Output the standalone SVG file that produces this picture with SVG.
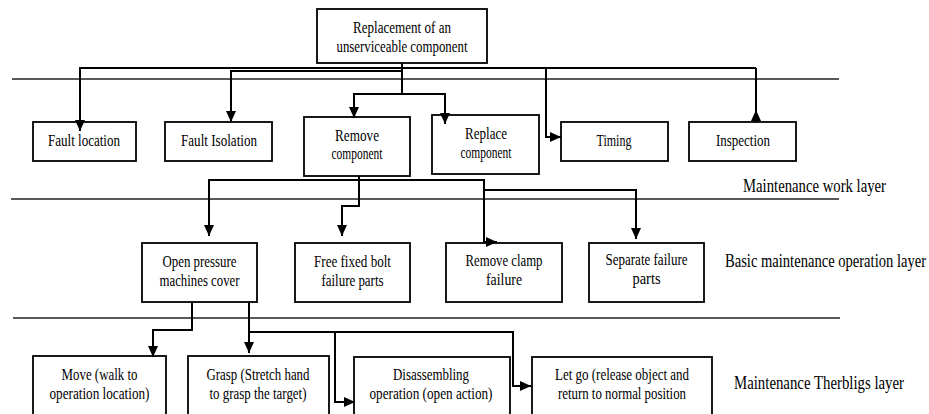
<svg xmlns="http://www.w3.org/2000/svg" width="929" height="414" viewBox="0 0 929 414">
<style>
  .box { fill: #ffffff; stroke: #000; stroke-width: 1.8; }
  .t { font-family: "Liberation Serif", "DejaVu Serif", "Times New Roman", serif; font-size: 17px; fill: #000; text-anchor: middle; }
  .lbl { font-family: "Liberation Serif", "DejaVu Serif", "Times New Roman", serif; font-size: 19px; fill: #000; }
  .layer { stroke: #222; stroke-width: 1.6; fill: none; }
  .conn { stroke: #000; stroke-width: 2; fill: none; marker-end: url(#ah); }
  .seg { stroke: #000; stroke-width: 2; fill: none; }
</style>
<defs>
  <marker id="ah" markerUnits="userSpaceOnUse" markerWidth="11" markerHeight="10" refX="11" refY="5" orient="auto">
    <path d="M0,0 L11,5 L0,10 z" fill="#000"/>
  </marker>
</defs>
<rect width="929" height="414" fill="#fff"/>

<g id="layer-lines">
  <line class="layer" x1="12" y1="79" x2="839" y2="79"/>
  <line class="layer" x1="11" y1="199" x2="839" y2="199"/>
  <line class="layer" x1="13" y1="318" x2="840" y2="318"/>
</g>

<g id="root">
  <rect class="box" x="317" y="9" width="170" height="54"/>
  <text class="t" x="402" y="33" textLength="98" lengthAdjust="spacingAndGlyphs">Replacement of an</text>
  <text class="t" x="402" y="52" textLength="131" lengthAdjust="spacingAndGlyphs">unserviceable component</text>
</g>

<g id="fault-location">
  <rect class="box" x="33" y="122" width="103" height="39"/>
  <text class="t" x="84" y="146" textLength="72" lengthAdjust="spacingAndGlyphs">Fault location</text>
</g>
<g id="fault-isolation">
  <rect class="box" x="165" y="122" width="107" height="39"/>
  <text class="t" x="219" y="146" textLength="76" lengthAdjust="spacingAndGlyphs">Fault Isolation</text>
</g>
<g id="remove-component">
  <rect class="box" x="304" y="117" width="106" height="59"/>
  <text class="t" x="357" y="141" textLength="44" lengthAdjust="spacingAndGlyphs">Remove</text>
  <text class="t" x="357" y="159" textLength="51" lengthAdjust="spacingAndGlyphs">component</text>
</g>
<g id="replace-component">
  <rect class="box" x="432" y="115" width="107" height="59"/>
  <text class="t" x="486" y="139" textLength="42" lengthAdjust="spacingAndGlyphs">Replace</text>
  <text class="t" x="486" y="158" textLength="51" lengthAdjust="spacingAndGlyphs">component</text>
</g>
<g id="timing">
  <rect class="box" x="561" y="122" width="107" height="39"/>
  <text class="t" x="614" y="146" textLength="35" lengthAdjust="spacingAndGlyphs">Timing</text>
</g>
<g id="inspection">
  <rect class="box" x="689" y="122" width="107" height="39"/>
  <text class="t" x="743" y="146" textLength="54" lengthAdjust="spacingAndGlyphs">Inspection</text>
</g>

<g id="open-pressure">
  <rect class="box" x="142" y="243" width="115" height="59"/>
  <text class="t" x="199.5" y="267" textLength="74" lengthAdjust="spacingAndGlyphs">Open pressure</text>
  <text class="t" x="199.5" y="286" textLength="80" lengthAdjust="spacingAndGlyphs">machines cover</text>
</g>
<g id="free-fixed-bolt">
  <rect class="box" x="295" y="243" width="115" height="59"/>
  <text class="t" x="352.5" y="267" textLength="77" lengthAdjust="spacingAndGlyphs">Free fixed bolt</text>
  <text class="t" x="352.5" y="286" textLength="62" lengthAdjust="spacingAndGlyphs">failure parts</text>
</g>
<g id="remove-clamp">
  <rect class="box" x="446" y="243" width="116" height="59"/>
  <text class="t" x="504" y="266" textLength="77" lengthAdjust="spacingAndGlyphs">Remove clamp</text>
  <text class="t" x="504" y="285" textLength="36" lengthAdjust="spacingAndGlyphs">failure</text>
</g>
<g id="separate-failure">
  <rect class="box" x="589" y="243" width="115" height="59"/>
  <text class="t" x="646.5" y="265" textLength="82" lengthAdjust="spacingAndGlyphs">Separate failure</text>
  <text class="t" x="646.5" y="284" textLength="28" lengthAdjust="spacingAndGlyphs">parts</text>
</g>

<g id="move">
  <rect class="box" x="33" y="356" width="133" height="70"/>
  <text class="t" x="99.5" y="380" textLength="76" lengthAdjust="spacingAndGlyphs">Move (walk to</text>
  <text class="t" x="99.5" y="399" textLength="100" lengthAdjust="spacingAndGlyphs">operation location)</text>
</g>
<g id="grasp">
  <rect class="box" x="188" y="356" width="141" height="70"/>
  <text class="t" x="258" y="380" textLength="103" lengthAdjust="spacingAndGlyphs">Grasp (Stretch hand</text>
  <text class="t" x="258" y="399" textLength="97" lengthAdjust="spacingAndGlyphs">to grasp the target)</text>
</g>
<g id="disassembling">
  <rect class="box" x="354" y="357" width="156" height="70"/>
  <text class="t" x="431" y="380" textLength="76" lengthAdjust="spacingAndGlyphs">Disassembling</text>
  <text class="t" x="431" y="399" textLength="123" lengthAdjust="spacingAndGlyphs">operation (open action)</text>
</g>
<g id="let-go">
  <rect class="box" x="532" y="357" width="180" height="70"/>
  <text class="t" x="622" y="380" textLength="134" lengthAdjust="spacingAndGlyphs">Let go (release object and</text>
  <text class="t" x="622" y="399" textLength="128" lengthAdjust="spacingAndGlyphs">return to normal position</text>
</g>

<g id="connectors">
  <path class="seg" d="M80,68 H756"/>
  <path class="seg" d="M231,71 H402"/>
  <path class="conn" d="M402,68 H80 V131"/>
  <path class="conn" d="M402,71 H231 V122"/>
  <path class="conn" d="M402,63 V94 H354 V118"/>
  <path class="conn" d="M402,94 H445 V124"/>
  <path class="conn" d="M546,68 V137 H561"/>
  <path class="seg" d="M756,68 V122"/>
  <path class="conn" d="M756,122 V110"/>

  <path class="conn" d="M359,176 V180 H209 V236"/>
  <path class="conn" d="M359,176 V206 H342 V236"/>
  <path class="conn" d="M359,180 H484 V242 H497"/>
  <path class="conn" d="M483,190 H636 V239"/>

  <path class="conn" d="M192,302 V330 H153 V357"/>
  <path class="conn" d="M249,302 V353"/>
  <path class="conn" d="M249,332 H335 V402 H355"/>
  <path class="conn" d="M335,332 H513 V386 H531"/>
</g>

<g id="layer-labels">
  <text class="lbl" transform="translate(743 192) scale(0.75 1)" x="0" y="0" textLength="190.7" lengthAdjust="spacingAndGlyphs">Maintenance work layer</text>
  <text class="lbl" transform="translate(725 267) scale(0.75 1)" x="0" y="0" textLength="268" lengthAdjust="spacingAndGlyphs">Basic maintenance operation layer</text>
  <text class="lbl" transform="translate(734 389) scale(0.75 1)" x="0" y="0" textLength="226.7" lengthAdjust="spacingAndGlyphs">Maintenance Therbligs layer</text>
</g>
</svg>
